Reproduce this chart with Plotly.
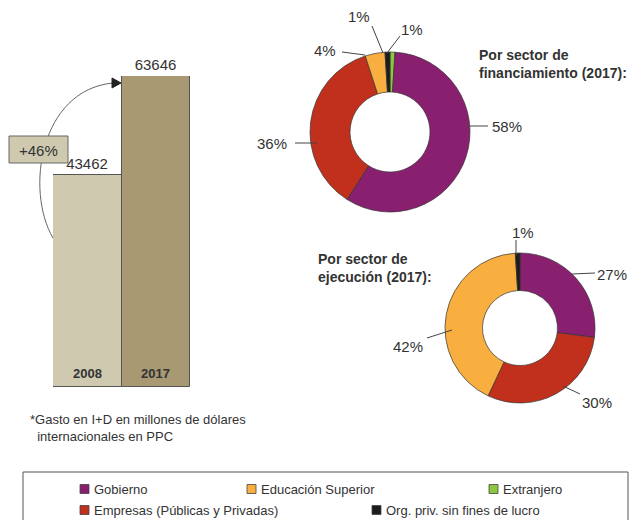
import plotly.graph_objects as go

# ---------------- data ----------------
years = ["2008", "2017"]
spend = [43462, 63646]
growth_label = "+46%"

fin_sectors = ["Extranjero", "Gobierno", "Empresas (Públicas y Privadas)",
               "Educación Superior", "Org. priv. sin fines de lucro"]
fin_values = [1, 58, 36, 4, 1]

exe_sectors = ["Gobierno", "Empresas (Públicas y Privadas)",
               "Educación Superior", "Org. priv. sin fines de lucro"]
exe_values = [27, 30, 42, 1]

legend_rows = [["Gobierno", "Educación Superior", "Extranjero"],
               ["Empresas (Públicas y Privadas)", "Org. priv. sin fines de lucro"]]

sector_colors = {
    "Gobierno": "#88206F",
    "Empresas (Públicas y Privadas)": "#C1301D",
    "Educación Superior": "#F9AE40",
    "Extranjero": "#8DC63F",
    "Org. priv. sin fines de lucro": "#1C1C1C",
}
bar_colors = ["#CEC9AF", "#A89972"]

W, H = 630, 520
FONT = "Liberation Sans, Arial, sans-serif"
TXT = "#333333"


def px(x):
    return x / W


def py(y):
    return 1 - y / H


fig = go.Figure()

# ---------------- bars ----------------
fig.add_trace(go.Bar(
    x=years, y=spend,
    marker=dict(color=bar_colors, line=dict(color="#555555", width=1)),
    texttemplate="%{y:.0f}", textposition="outside",
    textfont=dict(size=15, color=TXT, family=FONT),
    cliponaxis=False,
))

# ---------------- donuts ----------------
fig.add_trace(go.Pie(
    labels=fin_sectors, values=fin_values, hole=0.5, sort=False,
    direction="clockwise", rotation=0, textinfo="none",
    marker=dict(colors=[sector_colors[s] for s in fin_sectors],
                line=dict(color="#333333", width=0.7)),
    domain=dict(x=[px(310), px(470)], y=[py(212), py(52)]),
))
fig.add_trace(go.Pie(
    labels=exe_sectors, values=exe_values, hole=0.5, sort=False,
    direction="clockwise", rotation=0, textinfo="none",
    marker=dict(colors=[sector_colors[s] for s in exe_sectors],
                line=dict(color="#333333", width=0.7)),
    domain=dict(x=[px(445), px(595)], y=[py(403), py(253)]),
))

shapes = []
annotations = []


def line(x0, y0, x1, y1, color="#444444", width=1):
    shapes.append(dict(type="line", xref="paper", yref="paper",
                       x0=px(x0), y0=py(y0), x1=px(x1), y1=py(y1),
                       line=dict(color=color, width=width)))


def text(x, y, s, size=15, xanchor="center", align="center"):
    annotations.append(dict(
        xref="paper", yref="paper", x=px(x), y=py(y), text=s,
        showarrow=False, xanchor=xanchor, yanchor="middle", align=align,
        font=dict(size=size, color=TXT, family=FONT)))


# financing labels: (value index, text center, line)
fin_label_pos = [
    (1, (507, 126), (467, 126, 488, 126)),
    (2, (272, 143), (295, 143, 317, 143)),
    (3, (325, 51), (342, 52, 365, 55)),
    (4, (359, 17), (372, 26, 383, 53)),
    (0, (412, 29), (400, 36, 387, 53)),
]
for i, (tx, ty), (a, b, c, d) in fin_label_pos:
    text(tx, ty, f"{fin_values[i]}%")
    line(a, b, c, d)

exe_label_pos = [
    (3, (523, 233), (516, 240, 516, 256)),
    (0, (612, 274), (572, 274, 595, 273)),
    (2, (408, 346), (427, 338, 452, 330)),
    (1, (597, 402), (563, 386, 580, 394)),
]
for i, (tx, ty), (a, b, c, d) in exe_label_pos:
    text(tx, ty, f"{exe_values[i]}%")
    line(a, b, c, d)

# titles
text(477, 64, "<b>Por sector de<br>financiamiento (2017):</b>", size=14,
     xanchor="left", align="left")
text(316, 268, "<b>Por sector de<br>ejecución (2017):</b>", size=14,
     xanchor="left", align="left")

# year labels inside bars (category index on the bar axis)
for i, yr in enumerate(years):
    annotations.append(dict(
        xref="x", yref="y", x=i, y=0, text=f"<b>{yr}</b>", showarrow=False,
        yanchor="bottom", yshift=4,
        font=dict(size=13, color=TXT, family=FONT)))

# growth arrow and box
shapes.append(dict(type="path", xref="paper", yref="paper",
                   path=f"M {px(53):.4f},{py(238):.4f} C {px(25):.4f},{py(190):.4f} {px(40):.4f},{py(90):.4f} {px(113):.4f},{py(83):.4f}",
                   line=dict(color="#666666", width=1)))
shapes.append(dict(type="path", xref="paper", yref="paper",
                   path=f"M {px(112):.4f},{py(78):.4f} L {px(121):.4f},{py(83):.4f} L {px(112):.4f},{py(88):.4f} Z",
                   fillcolor="#222222", line=dict(color="#222222", width=1)))
shapes.append(dict(type="rect", xref="paper", yref="paper",
                   x0=px(9), x1=px(68), y0=py(163), y1=py(136),
                   fillcolor=bar_colors[0], line=dict(color="#666666", width=1)))
text(38.5, 150, growth_label, size=15)

# footnote
text(28, 428, "*Gasto en I+D en millones de dólares<br>  internacionales en PPC",
     size=13, xanchor="left", align="left")

# legend box
shapes.append(dict(type="rect", xref="paper", yref="paper",
                   x0=px(23), x1=px(628), y0=py(535), y1=py(472),
                   fillcolor="rgba(0,0,0,0)", line=dict(color="#555555", width=1)))
legend_x = [[80, 247, 489], [80, 372]]
legend_y = [489, 510]
for r, row in enumerate(legend_rows):
    for c, name in enumerate(row):
        x0 = legend_x[r][c]
        y0 = legend_y[r]
        shapes.append(dict(type="rect", xref="paper", yref="paper",
                           x0=px(x0), x1=px(x0 + 9), y0=py(y0 + 4.5), y1=py(y0 - 4.5),
                           fillcolor=sector_colors[name], line=dict(color="#444444", width=0.8)))
        text(x0 + 12, y0, name, size=13, xanchor="left", align="left")

hidden = dict(showticklabels=False, showgrid=False, zeroline=False, showline=False, ticks="")
fig.update_layout(
    width=W, height=H, margin=dict(l=0, r=0, t=0, b=0),
    paper_bgcolor="white", plot_bgcolor="rgba(0,0,0,0)",
    showlegend=False, bargap=0,
    font=dict(family=FONT, color=TXT),
    xaxis=dict(domain=[px(53), px(190)], type="category",
               range=[-0.5, len(years) - 0.5], **hidden),
    yaxis=dict(domain=[py(387), py(76)], range=[0, spend[1]], **hidden),
    shapes=shapes, annotations=annotations,
)

fig.write_html("out.html", config={"displayModeBar": False},
               post_script="document.body.style.margin='0';document.body.style.overflow='hidden';")
